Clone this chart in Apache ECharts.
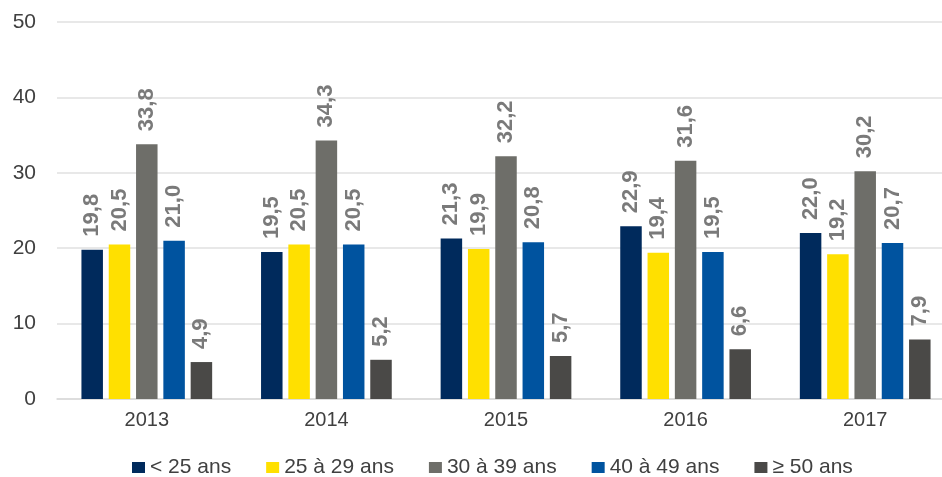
<!DOCTYPE html>
<html>
<head>
<meta charset="utf-8">
<script src="https://cdn.jsdelivr.net/npm/echarts@6/dist/echarts.min.js"></script>
<style>
  html, body { margin: 0; padding: 0; background: #ffffff; overflow: hidden; }
  /* the plot runs a little past the right edge of the window */
  #chart { width: 955px; height: 477px; }
</style>
</head>
<body>
<div id="chart"></div>
<script>
// Years on the x axis
const years = ['2013', '2014', '2015', '2016', '2017'];

// Age groups (legend order)
const ageGroups = ['< 25 ans', '25 à 29 ans', '30 à 39 ans', '40 à 49 ans', '≥ 50 ans'];

// Shares per age group, one value per year
const under25 = [19.8, 19.5, 21.3, 22.9, 22.0];
const from25to29 = [20.5, 20.5, 19.9, 19.4, 19.2];
const from30to39 = [33.8, 34.3, 32.2, 31.6, 30.2];
const from40to49 = [21.0, 20.5, 20.8, 19.5, 20.7];
const over50 = [4.9, 5.2, 5.7, 6.6, 7.9];

// Y axis ticks
const yTicks = [0, 10, 20, 30, 40, 50];

const seriesValues = [under25, from25to29, from30to39, from40to49, over50];
const colors = ['#002a5c', '#ffe000', '#6e6e69', '#00539f', '#4a4947'];

const FONT = 'Arial, "Liberation Sans", sans-serif';

const chart = echarts.init(document.getElementById('chart'), null, { renderer: 'canvas' });

chart.setOption({
  animation: false,
  backgroundColor: '#ffffff',
  textStyle: { fontFamily: FONT },
  grid: { left: 57, right: 0, top: 22, bottom: 78, containLabel: false },
  legend: {
    data: ageGroups,
    left: 132,
    top: 457,
    padding: 0,
    icon: 'rect',
    itemWidth: 13,
    itemHeight: 11,
    itemGap: 35,
    textStyle: { fontFamily: FONT, fontSize: 21, color: '#404040' }
  },
  xAxis: {
    type: 'category',
    data: years,
    axisLine: { show: true, lineStyle: { color: '#d9d9d9', width: 1.5 } },
    axisTick: { show: false },
    axisLabel: { fontFamily: FONT, fontSize: 20, color: '#404040', margin: 11 }
  },
  yAxis: {
    type: 'value',
    min: yTicks[0],
    max: yTicks[yTicks.length - 1],
    interval: yTicks[1] - yTicks[0],
    axisLine: { show: false },
    axisTick: { show: false },
    splitLine: { show: true, lineStyle: { color: '#e0e0e0', width: 1.5 } },
    axisLabel: { fontFamily: FONT, fontSize: 21, color: '#404040', margin: 21 }
  },
  series: ageGroups.map((name, i) => ({
    name: name,
    type: 'bar',
    data: seriesValues[i],
    barWidth: 21.5,
    barGap: '27%',
    itemStyle: { color: colors[i] },
    label: {
      show: true,
      position: 'top',
      rotate: 90,
      align: 'left',
      verticalAlign: 'middle',
      distance: 13,
      fontFamily: FONT,
      fontSize: 22,
      fontWeight: 'bold',
      color: '#7a7a7a',
      formatter: p => p.value.toFixed(1).replace('.', ',')
    }
  }))
});
</script>
</body>
</html>
